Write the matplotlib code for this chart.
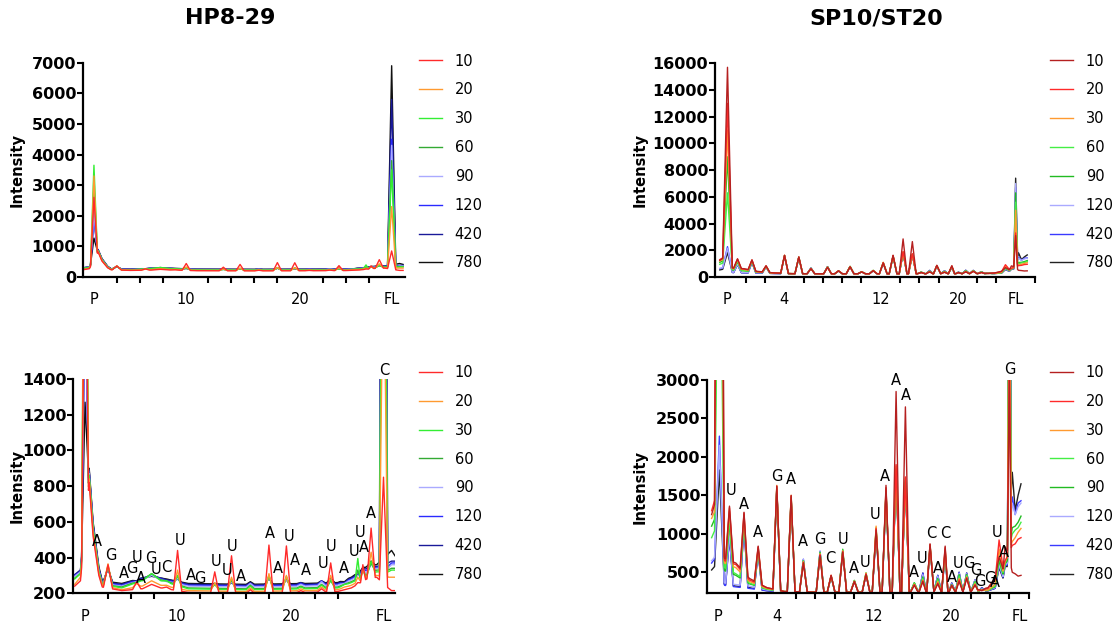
import numpy as np
import matplotlib.pyplot as plt
from matplotlib.lines import Line2D

plt.rcParams['font.family'] = ['DejaVu Sans']

times = ['10', '20', '30', '60', '90', '120', '420', '780']

# ---------------- HP8-29 ----------------
hp_colors = ['#ff2a2a', '#ff9a30', '#33ee33', '#33aa33', '#aaaaff', '#2a2aff', '#1a1a99', '#111111']

# baseline knots (x in tick units) and per-series baseline levels
hp_base_x = [-0.45, -0.2, 0.18, 0.35, 0.6, 0.75, 1.6, 2.45, 3.32, 4.5, 7.0, 9.6, 11.0, 11.6, 12.27, 12.7, 13.2, 13.35, 13.5]
hp_base = {
    '10':  [240, 270, 820, 520, 300, 235, 215, 225, 230, 205, 200, 205, 210, 230, 280, 290, 230, 215, 215],
    '20':  [250, 290, 840, 540, 310, 245, 220, 240, 245, 215, 210, 215, 220, 245, 290, 300, 290, 290, 290],
    '30':  [280, 310, 860, 560, 320, 250, 230, 270, 270, 225, 220, 225, 230, 260, 300, 320, 320, 330, 330],
    '60':  [285, 310, 860, 560, 320, 250, 235, 275, 275, 230, 225, 230, 235, 265, 305, 330, 330, 340, 340],
    '90':  [295, 320, 870, 570, 330, 255, 240, 275, 275, 240, 235, 240, 245, 275, 320, 340, 340, 360, 360],
    '120': [300, 320, 880, 580, 330, 260, 245, 280, 280, 245, 240, 245, 250, 280, 330, 345, 350, 370, 370],
    '420': [305, 330, 890, 590, 340, 265, 250, 285, 285, 250, 245, 250, 255, 285, 340, 350, 370, 380, 380],
    '780': [300, 330, 900, 600, 350, 270, 255, 285, 285, 255, 250, 255, 260, 290, 350, 360, 420, 440, 410],
}
hp_peak_x = [0.0, 1.0, 2.25, 2.9, 3.55, 4.03, 5.65, 6.38, 7.2, 8.01, 8.77, 9.4, 10.3, 10.7, 11.3, 11.88, 12.1, 12.46, 13.0]
hp_peak_w = [0.15, 0.2, 0.18, 0.4, 0.2, 0.18, 0.18, 0.18, 0.18, 0.18, 0.18, 0.18, 0.18, 0.18, 0.18, 0.12, 0.12, 0.18, 0.18]
hp_peaks = {
    '10':  [2600, 360, 265, 250, 235, 440, 320, 410, 220, 470, 465, 215, 225, 370, 220, 260, 360, 565, 850],
    '20':  [3300, 365, 255, 270, 245, 330, 260, 290, 230, 310, 300, 225, 235, 300, 235, 290, 340, 430, 2300],
    '30':  [3650, 355, 260, 310, 270, 300, 250, 280, 240, 300, 295, 235, 245, 275, 250, 395, 330, 380, 3500],
    '60':  [3000, 350, 260, 310, 270, 300, 250, 275, 245, 300, 290, 240, 250, 270, 250, 330, 330, 370, 3800],
    '90':  [2100, 345, 265, 300, 265, 285, 245, 265, 255, 290, 280, 250, 265, 275, 255, 300, 330, 360, 4300],
    '120': [1950, 345, 265, 305, 270, 285, 250, 260, 255, 290, 280, 255, 270, 280, 255, 305, 335, 365, 4500],
    '420': [1900, 340, 270, 300, 275, 280, 255, 260, 260, 285, 275, 260, 265, 280, 260, 300, 340, 370, 5800],
    '780': [1270, 340, 270, 295, 280, 280, 255, 260, 265, 285, 275, 260, 270, 285, 265, 305, 345, 380, 6900],
}
hp_lab_x = [0.51, 1.13, 1.70, 2.03, 2.25, 2.45, 2.86, 3.09, 3.55, 4.13, 4.6, 5.0, 5.7, 6.19, 6.4, 6.77, 8.07,
            8.42, 8.88, 9.14, 9.6, 10.36, 10.72, 11.29, 11.7, 11.96, 12.16, 12.46, 13.04]
hp_lab_y = [489, 414, 312, 340, 402, 284, 396, 334, 346, 498, 302, 284, 377, 327, 461, 293, 532,
            340, 517, 386, 327, 368, 461, 340, 433, 539, 457, 644, 1450]
hp_labels = list('AGAGUAGUCUAGUUUAAAUAAUUAUUAAC')

# ---------------- SP10/ST20 ----------------
sp_colors = ['#b52020', '#ff2a2a', '#ff9a30', '#44ee44', '#22bb22', '#aaaaff', '#3a3aff', '#222222']

sp_base_x = [-0.35, -0.18, 0.32, 0.9, 1.6, 2.5, 3.4, 5.0, 10.0, 13.0, 13.9, 14.25, 14.65, 14.89, 15.15, 15.3, 15.45, 15.6]
sp_base = {
    '10':  [1250, 1400, 680, 620, 420, 300, 250, 240, 240, 250, 300, 420, 520, 800, 500, 480, 450, 460],
    '20':  [1300, 1450, 650, 600, 400, 300, 250, 240, 240, 250, 290, 400, 560, 700, 850, 870, 930, 950],
    '30':  [1200, 1300, 620, 560, 380, 290, 250, 240, 240, 250, 270, 340, 500, 700, 900, 950, 1020, 1070],
    '60':  [950, 1050, 560, 480, 360, 280, 250, 240, 245, 250, 265, 320, 480, 700, 1000, 1050, 1080, 1150],
    '90':  [1100, 1200, 520, 460, 350, 280, 250, 240, 245, 255, 265, 310, 460, 650, 1080, 1100, 1150, 1230],
    '120': [650, 700, 360, 340, 320, 270, 245, 240, 245, 255, 265, 300, 430, 620, 1400, 1250, 1350, 1400],
    '420': [620, 680, 330, 310, 290, 260, 240, 235, 245, 255, 260, 290, 420, 600, 1480, 1250, 1400, 1430],
    '780': [530, 580, 340, 320, 300, 260, 240, 235, 245, 255, 260, 290, 410, 580, 1800, 1300, 1500, 1650],
}
sp_peak_x = [0.05, 0.57, 1.32, 2.05, 3.01, 3.75, 4.38, 5.24, 5.81, 6.41, 7.01, 7.61, 8.13, 8.64, 9.16, 9.64,
             10.1, 10.54, 10.91, 11.31, 11.69, 12.03, 12.41, 12.8, 13.23, 13.58, 14.47, 14.78, 15.0]
sp_peak_w = [0.25] + [0.2] * 26 + [0.1, 0.1]
sp_peaks = {
    '10':  [15700, 1360, 1280, 840, 1620, 1500, 620, 720, 460, 760, 380, 470, 1050, 1630, 2850, 2650,
            330, 380, 870, 350, 840, 330, 380, 420, 330, 260, 700, 830, 3100],
    '20':  [13000, 1340, 1270, 830, 1620, 1490, 630, 730, 460, 770, 380, 480, 1070, 1600, 1900, 1740,
            340, 390, 860, 360, 820, 330, 400, 430, 340, 265, 920, 650, 3300],
    '30':  [11000, 1300, 1250, 820, 1630, 1500, 640, 740, 460, 780, 385, 490, 1100, 1590, 1880, 1720,
            345, 400, 860, 380, 800, 330, 420, 440, 350, 270, 800, 640, 5000],
    '60':  [6300, 1200, 1200, 800, 1600, 1480, 650, 750, 455, 790, 390, 490, 1080, 1560, 1850, 1700,
            360, 420, 850, 400, 780, 335, 450, 460, 370, 275, 700, 620, 5600],
    '90':  [9000, 1150, 1180, 790, 1600, 1470, 650, 760, 450, 800, 395, 490, 1060, 1550, 1830, 1690,
            365, 440, 840, 420, 760, 340, 470, 470, 380, 280, 650, 610, 6300],
    '120': [2150, 1000, 1150, 770, 1590, 1460, 670, 780, 450, 780, 390, 480, 1040, 1540, 1820, 1680,
            360, 470, 830, 450, 740, 350, 490, 480, 400, 290, 600, 600, 7000],
    '420': [2270, 950, 1100, 760, 1580, 1450, 670, 770, 445, 770, 385, 470, 1020, 1530, 1810, 1670,
            355, 490, 820, 460, 720, 360, 500, 490, 400, 300, 580, 590, 6700],
    '780': [1830, 950, 1100, 760, 1580, 1450, 660, 770, 445, 770, 385, 470, 1020, 1530, 1800, 1660,
            355, 490, 820, 460, 720, 360, 500, 490, 400, 300, 560, 580, 7400],
}
sp_lab_x = [0.64, 1.32, 2.05, 3.01, 3.75, 4.38, 5.24, 5.79, 6.44, 7.01, 7.56, 8.08, 8.56, 9.16, 9.66,
            10.09, 10.48, 10.95, 11.34, 11.72, 12.06, 12.37, 12.89, 13.28, 13.49, 13.97, 14.23, 14.38, 14.74, 15.0]
sp_lab_y = [1569, 1387, 1015, 1751, 1708, 898, 920, 673, 929, 552, 630, 1257, 1751, 2998, 2803,
            495, 673, 1006, 543, 1006, 435, 617, 617, 517, 378, 422, 365, 1015, 755, 3137]
sp_labels = list('UAAGAAGCUAUUAAAAUCACAUGGGGAUAG')


def trace(base_x, base_y, peak_x, peak_w, peak_h):
    # baseline knots plus one spike per peak (feet sit on the baseline)
    base_x = np.asarray(base_x, float)
    base_y = np.asarray(base_y, float)
    keep = [not any(abs(b - p) < w for p, w in zip(peak_x, peak_w)) for b in base_x]
    xs = list(base_x[keep])
    ys = list(base_y[keep])
    for p, w, h in zip(peak_x, peak_w, peak_h):
        for dx in (-w, w):
            xs.append(p + dx)
            ys.append(np.interp(p + dx, base_x, base_y))
        xs.append(p)
        ys.append(h)
    order = np.argsort(xs, kind='stable')
    return np.array(xs)[order], np.array(ys)[order]


def draw(ax, colors, base_x, base, peak_x, peak_w, peaks):
    for name, c in reversed(list(zip(times, colors))):
        x, y = trace(base_x, base[name], peak_x, peak_w, peaks[name])
        ax.plot(x, y, color=c, lw=1.0)


def style(ax, xlim, ylim, yticks, minor, lab_pos, lab_txt, legend_xy, colors, ylab_x):
    ax.set_xlim(*xlim)
    ax.set_ylim(*ylim)
    ax.set_yticks(yticks)
    ax.set_xticks(minor, minor=True)
    ax.set_xticks(lab_pos, lab_txt)
    for s in ['top', 'right']:
        ax.spines[s].set_visible(False)
    for s in ['left', 'bottom']:
        ax.spines[s].set_linewidth(1.6)
    ax.tick_params(axis='x', which='minor', length=4, width=1.5)
    ax.tick_params(axis='x', which='major', length=0, pad=11, labelsize=10.5)
    ax.tick_params(axis='y', length=4, width=1.5, pad=1, labelsize=11.5)
    for t in ax.get_yticklabels():
        t.set_fontweight('bold')
    ax.set_ylabel('Intensity', fontsize=10.5, fontweight='bold')
    ax.yaxis.set_label_coords(ylab_x, 0.5)
    handles = [Line2D([], [], color=c, lw=1.0) for c in colors]
    ax.legend(handles, times, loc='upper left', bbox_to_anchor=legend_xy,
              bbox_transform=ax.figure.transFigure, frameon=False, fontsize=10.5,
              borderpad=0, borderaxespad=0, handlelength=1.55, handletextpad=0.9,
              labelspacing=0.95)


fig = plt.figure(figsize=(11.18, 6.23), dpi=100)
ax1 = fig.add_axes([0.0742, 0.5554, 0.288, 0.344])
ax2 = fig.add_axes([0.6395, 0.5554, 0.2862, 0.343])
ax3 = fig.add_axes([0.0656, 0.0477, 0.2877, 0.344])
ax4 = fig.add_axes([0.6327, 0.0477, 0.288, 0.3424])

draw(ax1, hp_colors, hp_base_x, hp_base, hp_peak_x, hp_peak_w, hp_peaks)
draw(ax3, hp_colors, hp_base_x, hp_base, hp_peak_x, hp_peak_w, hp_peaks)
draw(ax2, sp_colors, sp_base_x, sp_base, sp_peak_x, sp_peak_w, sp_peaks)
draw(ax4, sp_colors, sp_base_x, sp_base, sp_peak_x, sp_peak_w, sp_peaks)

style(ax1, (-0.48, 13.58), (0, 7000), range(0, 7001, 1000), range(0, 14),
      [0, 4, 9, 13], ['P', '10', '20', 'FL'], (419 / 1118, 1 - 53.5 / 623), hp_colors, -0.18)
style(ax3, (-0.51, 13.5), (200, 1400), range(200, 1401, 200), range(0, 12),
      [0, 4, 9, 13], ['P', '10', '20', 'FL'], (419 / 1118, 1 - 365 / 623), hp_colors, -0.15)
style(ax2, (-0.6, 16.0), (0, 16000), range(0, 16001, 2000), range(0, 17),
      [0, 3, 8, 12, 15], ['P', '4', '12', '20', 'FL'], (1050 / 1118, 1 - 53.5 / 623), sp_colors, -0.21)
style(ax4, (-0.57, 16.03), (227, 3000), range(500, 3001, 500), range(0, 17),
      [0, 3, 8, 12, 15.55], ['P', '4', '12', '20', 'FL'], (1050 / 1118, 1 - 365 / 623), sp_colors, -0.184)

for x, y, s in zip(hp_lab_x, hp_lab_y, hp_labels):
    ax3.text(x, y, s, ha='center', va='center', fontsize=10.5, clip_on=False)
for x, y, s in zip(sp_lab_x, sp_lab_y, sp_labels):
    ax4.text(x, y, s, ha='center', va='center', fontsize=10.5, clip_on=False)

fig.text(230 / 1118, 1 - 18 / 623, 'HP8-29', ha='center', va='center', fontsize=16, fontweight='bold')
fig.text(876 / 1118, 1 - 18 / 623, 'SP10/ST20', ha='center', va='center', fontsize=16, fontweight='bold')

fig.savefig('out.png', dpi=100)
